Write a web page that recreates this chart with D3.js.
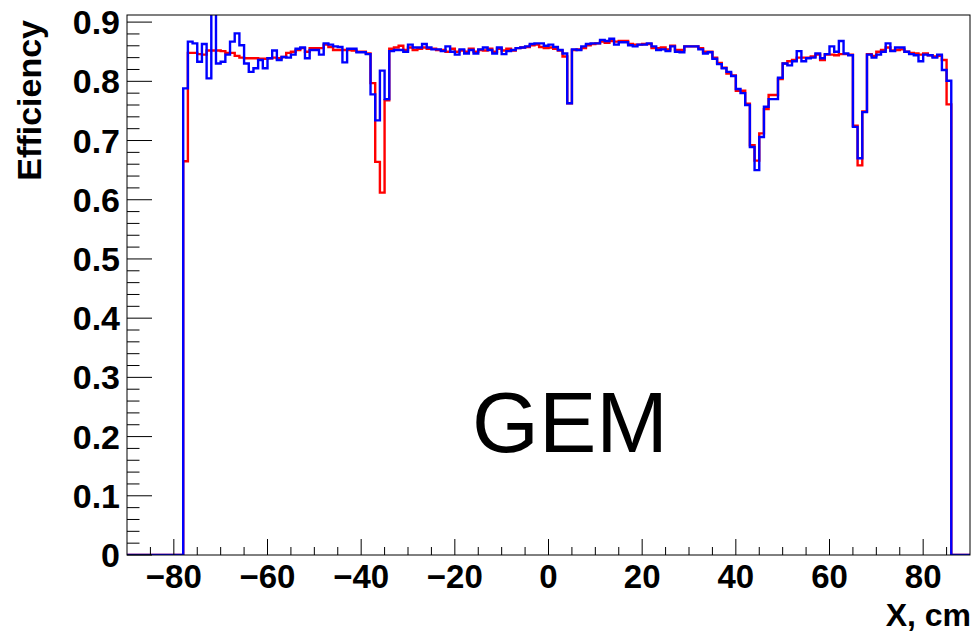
<!DOCTYPE html>
<html><head><meta charset="utf-8">
<script src="https://cdn.jsdelivr.net/npm/d3@7"></script>
<style>body{margin:0;background:#fff}svg{display:block}text{font-family:"Liberation Sans",Arial,Helvetica,sans-serif}</style>
</head><body><svg id="c" width="975" height="632"></svg>
<script>
// bins of 1 cm from -90 to 90; non-zero content from -78 to 85
const firstBin = -78;
const redValues = [
0.665,0.848,0.848,0.846,0.845,0.852,0.852,0.852,0.851,0.848,0.848,0.843,0.840,0.839,0.839,0.839,0.838,0.838,0.839,0.840,0.839,0.841,
0.848,0.850,0.853,0.856,0.850,0.856,0.856,0.856,0.862,0.858,0.853,0.853,0.853,0.853,0.852,0.850,0.850,0.847,
0.797,0.664,0.612,0.768,0.855,0.857,0.860,0.853,0.857,0.853,0.855,0.857,0.855,0.855,0.853,0.853,0.850,0.855,0.850,0.852,0.850,0.855,0.850,0.853,0.852,0.855,0.850,0.855,0.852,0.855,0.852,0.856,0.857,0.858,0.861,0.862,0.858,0.856,
0.857,0.855,0.852,0.842,0.763,0.853,0.854,0.856,0.861,0.863,0.864,0.867,0.865,0.868,0.867,0.868,0.868,0.863,0.862,0.862,0.863,0.863,0.856,0.856,0.857,0.854,0.860,0.853,0.853,0.859,0.859,0.859,0.856,0.850,0.850,
0.840,0.831,0.823,0.813,0.810,0.784,0.784,0.762,0.692,0.666,0.712,0.753,0.777,0.777,0.804,0.830,0.834,0.836,0.840,0.840,0.840,0.842,0.845,0.836,0.845,0.845,0.844,0.846,0.846,0.845,
0.725,0.658,0.749,0.846,0.843,0.850,0.853,0.857,0.852,0.853,0.854,0.850,0.848,0.847,0.845,0.847,0.844,0.842,0.843,0.836,0.761];
const blueValues = [
0.788,0.867,0.864,0.833,0.863,0.805,0.930,0.830,0.833,0.845,0.867,0.881,0.861,0.830,0.816,0.822,0.836,0.822,0.839,0.852,0.836,0.841,
0.840,0.845,0.855,0.857,0.839,0.853,0.853,0.845,0.864,0.862,0.859,0.858,0.832,0.855,0.855,0.849,0.849,0.846,
0.778,0.734,0.818,0.770,0.851,0.853,0.853,0.850,0.862,0.857,0.857,0.863,0.857,0.854,0.854,0.851,0.859,0.850,0.845,0.854,0.847,0.853,0.847,0.854,0.857,0.853,0.847,0.857,0.846,0.851,0.853,0.856,0.857,0.859,0.863,0.864,0.864,0.860,
0.862,0.858,0.853,0.847,0.763,0.854,0.853,0.859,0.863,0.864,0.864,0.870,0.868,0.872,0.862,0.866,0.866,0.861,0.859,0.862,0.862,0.864,0.859,0.853,0.854,0.851,0.859,0.850,0.849,0.859,0.859,0.859,0.854,0.847,0.849,
0.838,0.829,0.822,0.816,0.809,0.787,0.780,0.760,0.689,0.650,0.706,0.757,0.770,0.770,0.806,0.830,0.827,0.834,0.851,0.834,0.839,0.840,0.847,0.839,0.846,0.859,0.850,0.868,0.847,0.844,
0.723,0.670,0.748,0.845,0.840,0.845,0.850,0.864,0.851,0.857,0.857,0.850,0.846,0.844,0.834,0.845,0.844,0.840,0.845,0.819,0.801];
const xMajorTicks = [-80,-60,-40,-20,0,20,40,60,80];
const yMajorTicks = [0,0.1,0.2,0.3,0.4,0.5,0.6,0.7,0.8,0.9];
const xTitle = "X, cm", yTitle = "Efficiency", label = "GEM";

const svg = d3.select("#c");
const L=127, R=970, T=15, B=555;
const x = d3.scaleLinear().domain([-90,90]).range([L,R]);
const y = d3.scaleLinear().domain([0,0.912]).range([B,T]);

function binsOf(vals){
  const pts=[];
  for(let e=-90;e<90;e++){
    const i=e-firstBin;
    const v=(i>=0&&i<vals.length)?vals[i]:0;
    pts.push([e,v]);
  }
  pts.push([90,pts[pts.length-1][1]]);
  return pts;
}
svg.append("clipPath").attr("id","fr").append("rect").attr("x",L).attr("y",T).attr("width",R-L).attr("height",B-T);
const line=d3.line().x(d=>x(d[0])).y(d=>y(d[1])).curve(d3.curveStepAfter);
const g=svg.append("g").attr("clip-path","url(#fr)");
g.append("path").attr("d",line(binsOf(redValues))).attr("fill","none").attr("stroke","#ff0000").attr("stroke-width",2.4);
g.append("path").attr("d",line(binsOf(blueValues))).attr("fill","none").attr("stroke","#0000ff").attr("stroke-width",2.4);

// frame
svg.append("rect").attr("x",L).attr("y",T).attr("width",R-L).attr("height",B-T).attr("fill","none").attr("stroke","#000").attr("stroke-width",1);

// ticks (inward)
const xMinor=d3.range(-90,91,5).filter(v=>!xMajorTicks.includes(v)&&v>-90&&v<90);
const ax=svg.append("g").attr("stroke","#000").attr("stroke-width",1);
xMajorTicks.forEach(v=>ax.append("line").attr("x1",x(v)).attr("x2",x(v)).attr("y1",B).attr("y2",B-16));
xMinor.forEach(v=>ax.append("line").attr("x1",x(v)).attr("x2",x(v)).attr("y1",B).attr("y2",B-8));
const yMinor=d3.range(0,46).map(k=>k*0.02).filter(v=>Math.abs(v*10-Math.round(v*10))>1e-6);
yMajorTicks.forEach(v=>ax.append("line").attr("x1",L).attr("x2",L+25).attr("y1",y(v)).attr("y2",y(v)));
yMinor.forEach(v=>ax.append("line").attr("x1",L).attr("x2",L+12.5).attr("y1",y(v)).attr("y2",y(v)));

const fmtY=v=>v===0?"0":d3.format(".1f")(v);
const fmtX=v=>v<0?"\u2212"+Math.abs(v):String(v);
svg.append("g").selectAll("text").data(xMajorTicks).join("text")
  .attr("x",d=>x(d)).attr("y",588).attr("text-anchor","middle")
  .attr("font-size",33).attr("font-weight","bold").text(fmtX);
svg.append("g").selectAll("text").data(yMajorTicks).join("text")
  .attr("x",120).attr("y",d=>y(d)+12).attr("text-anchor","end")
  .attr("font-size",34).attr("font-weight","bold").text(fmtY);

svg.append("text").attr("x",971).attr("y",626).attr("text-anchor","end").attr("font-size",32).attr("font-weight","bold").text(xTitle);
svg.append("text").attr("transform","translate(41,20) rotate(-90)").attr("text-anchor","end").attr("font-size",34).attr("font-weight","bold").text(yTitle);
svg.append("text").attr("x",472).attr("y",452).attr("font-size",86).text(label);
</script></body></html>
